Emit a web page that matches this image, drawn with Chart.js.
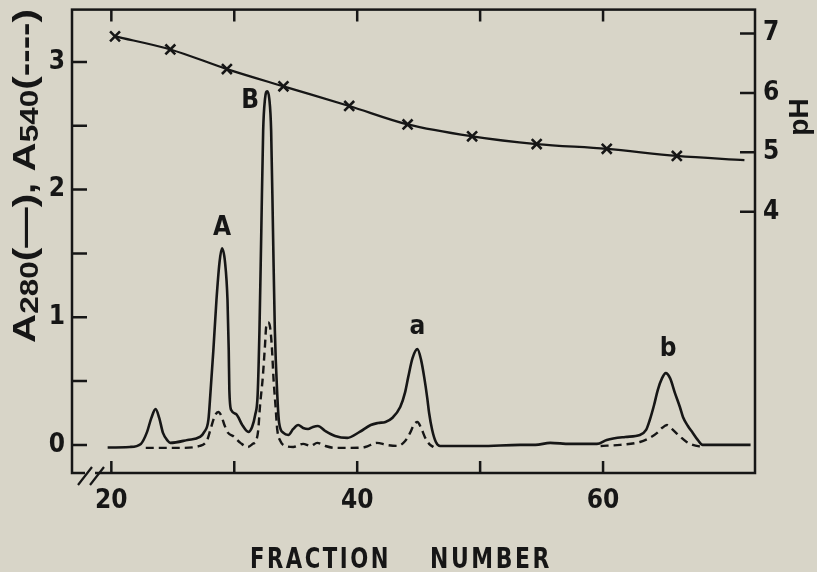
<!DOCTYPE html>
<html>
<head>
<meta charset="utf-8">
<script src="https://cdn.jsdelivr.net/npm/chart.js@4.4.1/dist/chart.umd.min.js"></script>
<style>
body { margin: 0; background: #d8d5c8; }
#wrap { width: 817px; height: 572px; }
</style>
</head>
<body>
<div id="wrap"><canvas id="graph" width="817" height="572"></canvas></div>
<script>
// A280 (solid line)
const a280X = [19.7,21.5,22.4,22.9,23.25,23.6,23.9,24.2,24.6,24.8,26.2,27.2,27.55,27.9,28.05,28.3,28.55,28.8,29.0,29.25,29.45,29.55,29.6,29.75,30.15,30.65,31.15,31.45,31.7,31.9,32.05,32.2,32.35,32.5,32.68,32.85,33.0,33.15,33.3,33.5,33.65,34.0,34.4,34.8,35.2,35.6,36.0,36.4,36.8,37.4,38.2,39.2,40.2,41.1,41.7,42.3,42.85,43.5,43.9,44.15,44.5,44.9,45.2,45.45,45.7,45.85,46.1,46.4,46.75,50.0,53.25,54.5,55.7,57.3,59.5,60.3,61.8,63.0,63.5,63.8,64.15,64.45,64.8,65.1,65.45,65.85,66.25,66.5,66.9,67.3,67.7,68.1,69.5,72.0]
const a280Y = [-0.02,-0.016,0.008,0.1,0.21,0.28,0.21,0.094,0.031,0.016,0.039,0.0625,0.1,0.2,0.39,0.742,1.133,1.43,1.54,1.43,1.133,0.742,0.43,0.273,0.242,0.156,0.102,0.141,0.234,0.39,0.9,1.68,2.46,2.71,2.77,2.71,2.46,1.68,0.9,0.39,0.172,0.094,0.078,0.125,0.156,0.133,0.125,0.141,0.148,0.109,0.07,0.055,0.102,0.156,0.172,0.18,0.211,0.297,0.414,0.531,0.68,0.75,0.664,0.531,0.367,0.25,0.117,0.023,-0.008,-0.008,0,0,0.016,0.008,0.008,0.039,0.0625,0.078,0.117,0.195,0.3125,0.43,0.523,0.5625,0.523,0.406,0.297,0.219,0.148,0.094,0.039,0,0,0]

// A540 (dashed line), null = not drawn
const a540X = [22.8,25.6,27.2,27.8,28.1,28.45,28.7,28.95,29.2,29.5,29.9,30.5,31.1,31.5,31.8,31.95,32.1,32.3,32.5,32.6,32.76,32.9,33.05,33.2,33.35,33.5,33.75,34.15,34.8,35.6,36.2,36.75,37.4,38.2,39.4,40.65,41.6,42.4,43.3,43.9,44.3,44.6,44.9,45.2,45.5,45.85,46.2,50,59.8,61.4,63.0,63.8,64.4,64.8,65.2,65.6,66.3,66.8,67.3,68.1]
const a540Y = [-0.023,-0.023,-0.008,0.039,0.133,0.234,0.258,0.227,0.156,0.094,0.07,0.016,-0.016,0.008,0.039,0.117,0.313,0.508,0.78,0.93,0.96,0.93,0.78,0.508,0.313,0.117,0.031,-0.008,-0.016,0.008,-0.008,0.016,-0.008,-0.023,-0.023,-0.016,0.016,0,-0.008,0.031,0.094,0.156,0.18,0.133,0.0625,0.008,-0.016,null,-0.008,0,0.023,0.055,0.094,0.133,0.156,0.125,0.0625,0.023,0,-0.016]

// pH, last point is the end of the line (no marker)
const phX = [20.3,24.8,29.4,34.0,39.35,44.1,49.35,54.6,60.3,66.0,71.5]
const phY = [6.95,6.73,6.40,6.11,5.78,5.47,5.27,5.14,5.06,4.94,4.87]

const xTicks = [20,30,40,50,60]
const xTickLabels = ['20','','40','','60']
const aTicks = [0,0.5,1,1.5,2,2.5,3]
const aTickLabels = ['0','','1','','2','','3']
const phTicks = [4,5,6,7]
const phTickLabels = ['4','5','6','7']

const peakNames = ['A','B','a','b']
const peakX = [29.0,31.3,44.9,65.3]
const peakY = [1.70,2.69,0.92,0.75]

const bg = '#d8d5c8'
const ink = '#161616'
const narrow = "'Liberation Sans Narrow', 'DejaVu Sans Condensed', sans-serif"
const wide = "'Liberation Sans', 'DejaVu Sans', sans-serif"

function pts(xs, ys){
	return xs.map((x, i) => ({x: x, y: ys[i]}))
}

// write text squeezed or stretched to a given width
function fitText(ctx, text, x, y, w){
	const m = ctx.measureText(text).width
	ctx.save()
	ctx.translate(x, y)
	ctx.scale(w/m, 1)
	ctx.fillText(text, 0, 0)
	ctx.restore()
}

function drawYTitle(ctx){
	const runs = [['A',32,0],['280',25,3],['(\u2014), ',32,0],['A',32,0],['540',25,3],['(----)',32,0]]
	ctx.save()
	ctx.fillStyle = ink
	ctx.textBaseline = 'alphabetic'
	ctx.textAlign = 'left'
	let total = 0
	runs.forEach(r => { ctx.font = 'bold ' + r[1] + 'px ' + wide; total += ctx.measureText(r[0]).width })
	ctx.translate(35, 176)
	ctx.rotate(-Math.PI/2)
	ctx.scale(334/total, 1)
	let pos = -total/2
	runs.forEach(r => {
		ctx.font = 'bold ' + r[1] + 'px ' + wide
		ctx.fillText(r[0], pos, r[2])
		pos += ctx.measureText(r[0]).width
	})
	ctx.restore()
}

const decor = {
	id: 'decor',
	beforeDraw(chart){
		const c = chart.ctx
		c.save()
		c.fillStyle = bg
		c.fillRect(0, 0, chart.width, chart.height)
		c.restore()
	},
	afterDraw(chart){
		const {ctx, chartArea: a, scales} = chart
		ctx.save()
		ctx.strokeStyle = ink
		ctx.lineWidth = 2.5
		ctx.strokeRect(a.left, a.top, a.right - a.left, a.bottom - a.top)

		// inward tick marks
		ctx.beginPath()
		scales.x.ticks.forEach(t => {
			const p = scales.x.getPixelForValue(t.value)
			ctx.moveTo(p, a.bottom); ctx.lineTo(p, a.bottom - 12)
			ctx.moveTo(p, a.top); ctx.lineTo(p, a.top + 12)
		})
		scales.y.ticks.forEach(t => {
			const p = scales.y.getPixelForValue(t.value)
			ctx.moveTo(a.left, p); ctx.lineTo(a.left + 15, p)
		})
		scales.y2.ticks.forEach(t => {
			const p = scales.y2.getPixelForValue(t.value)
			ctx.moveTo(a.right, p); ctx.lineTo(a.right - 15, p)
		})
		ctx.stroke()

		// axis break
		ctx.fillStyle = bg
		ctx.fillRect(85, a.bottom - 3, 10, 6)
		ctx.lineWidth = 2.2
		ctx.beginPath()
		ctx.moveTo(78, 485); ctx.lineTo(92, 467)
		ctx.moveTo(90, 485); ctx.lineTo(104, 467)
		ctx.stroke()

		// peak names
		ctx.fillStyle = ink
		ctx.font = 'bold 26px ' + narrow
		ctx.textAlign = 'center'
		ctx.textBaseline = 'middle'
		peakNames.forEach((n, i) => {
			ctx.fillText(n, scales.x.getPixelForValue(peakX[i]), scales.y.getPixelForValue(peakY[i]))
		})

		// x title
		ctx.textAlign = 'left'
		ctx.textBaseline = 'alphabetic'
		ctx.font = 'bold 28px ' + narrow
		ctx.letterSpacing = '3px'
		fitText(ctx, 'FRACTION', 250, 568, 141)
		fitText(ctx, 'NUMBER', 430, 568, 122)
		ctx.letterSpacing = '0px'

		// pH title
		ctx.save()
		ctx.translate(800, 117)
		ctx.rotate(-Math.PI/2)
		ctx.textAlign = 'center'
		ctx.textBaseline = 'middle'
		ctx.font = 'bold 28px ' + wide
		ctx.fillText('pH', 0, 0)
		ctx.restore()

		drawYTitle(ctx)
		ctx.restore()
	}
}

const tickFont = {family: narrow, size: 26, weight: 'bold'}

function noPad(s){
	s.paddingTop = 0
	s.paddingBottom = 0
	s.paddingLeft = 0
	s.paddingRight = 0
}

new Chart(document.getElementById('graph'), {
	type: 'line',
	data: {
		datasets: [{
			label: 'A280',
			data: pts(a280X, a280Y),
			yAxisID: 'y',
			borderColor: ink,
			borderWidth: 2.6,
			pointRadius: 0,
			cubicInterpolationMode: 'monotone',
			fill: false
		},
		{
			label: 'A540',
			data: pts(a540X, a540Y),
			yAxisID: 'y',
			borderColor: ink,
			borderWidth: 2.4,
			borderDash: [8, 5],
			pointRadius: 0,
			spanGaps: false,
			cubicInterpolationMode: 'monotone',
			fill: false
		},
		{
			label: 'pH',
			data: pts(phX, phY),
			yAxisID: 'y2',
			borderColor: ink,
			borderWidth: 2.2,
			pointStyle: 'crossRot',
			pointRadius: ctx => ctx.dataIndex < phX.length - 1 ? 7 : 0,
			pointBorderWidth: 2.6,
			pointBorderColor: ink,
			cubicInterpolationMode: 'monotone',
			fill: false
		}]
	},
	options: {
		responsive: false,
		animation: false,
		layout: {padding: {top: 8, left: 0, right: 0, bottom: 0}},
		plugins: {legend: {display: false}, tooltip: {enabled: false}},
		scales: {
			x: {
				type: 'linear',
				min: 16.8,
				max: 72.36,
				grid: {display: false, drawTicks: false},
				border: {display: false},
				afterBuildTicks: s => { s.ticks = xTicks.map(v => ({value: v})) },
				afterFit: s => { s.height = 99; noPad(s) },
				ticks: {
					autoSkip: false, maxRotation: 0, padding: 13,
					color: ink, font: tickFont,
					callback: (v, i) => xTickLabels[i]
				}
			},
			y: {
				position: 'left',
				min: -0.22,
				max: 3.41,
				grid: {display: false, drawTicks: false},
				border: {display: false},
				afterBuildTicks: s => { s.ticks = aTicks.map(v => ({value: v})) },
				afterFit: s => { s.width = 72; noPad(s) },
				ticks: {
					autoSkip: false, padding: 7,
					color: ink, font: tickFont,
					callback: (v, i) => aTickLabels[i]
				}
			},
			y2: {
				position: 'right',
				min: -0.39,
				max: 7.40,
				grid: {display: false, drawTicks: false},
				border: {display: false},
				afterBuildTicks: s => { s.ticks = phTicks.map(v => ({value: v})) },
				afterFit: s => { s.width = 62; noPad(s) },
				ticks: {
					autoSkip: false, padding: 8,
					color: ink, font: tickFont,
					callback: (v, i) => phTickLabels[i]
				}
			}
		}
	},
	plugins: [decor]
});
</script>
</body>
</html>
